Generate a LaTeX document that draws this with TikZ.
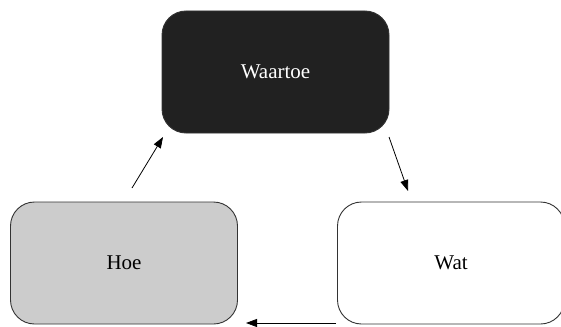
\documentclass[tikz,border=0pt]{standalone}
\usepackage{fontspec}
\setmainfont{Liberation Serif}
\usetikzlibrary{arrows.meta}
\begin{document}
\begin{tikzpicture}[x=1pt,y=-1pt,
  box/.style={rounded corners=24pt, draw=black!80, line width=0.9pt, minimum width=227pt, minimum height=122pt, font=\fontsize{21}{24}\selectfont, inner sep=0pt},
  conn/.style={line width=0.8pt, -{Triangle[length=11pt,width=8pt]}}]
\useasboundingbox (0,0) rectangle (561,326);
\node[box, fill=black!87, text=white] (w) at (275.5,72) {Waartoe};
\node[box, fill=black!20] (h) at (124,263) {\raisebox{-4pt}{Hoe}};
\node[box, fill=white] (t) at (451,263) {\raisebox{-4pt}{Wat}};
\coordinate (a1) at (132,188);
\coordinate (a2) at (163,137);
\coordinate (b1) at (389,137);
\coordinate (b2) at (408,191);
\coordinate (c1) at (336,323);
\coordinate (c2) at (246,323);
\draw[conn] (a1) -- (a2);
\draw[conn] (b1) -- (b2);
\draw[conn] (c1) -- (c2);
\end{tikzpicture}
\end{document}
